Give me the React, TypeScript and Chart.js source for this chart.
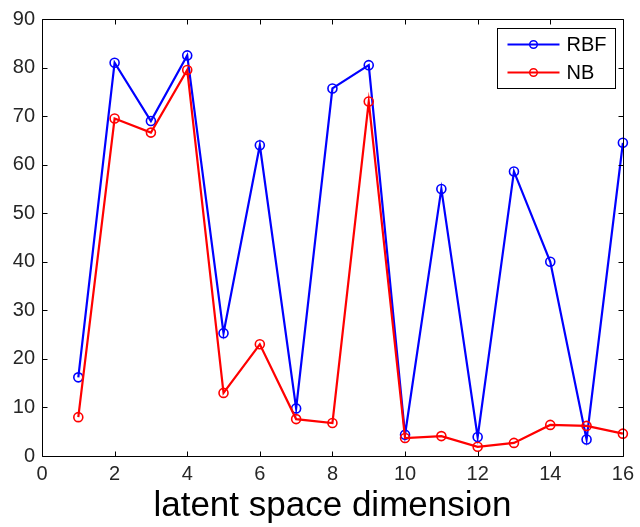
import React, { useEffect, useRef } from "react";
import { Chart, registerables } from "chart.js";

Chart.register(...registerables);

const dims = [1, 2, 3, 4, 5, 6, 7, 8, 9, 10, 11, 12, 13, 14, 15, 16];
const rbf = [16.2, 81, 69, 82.5, 25.3, 64, 9.8, 75.7, 80.5, 4.4, 55, 3.9, 58.6, 40, 3.4, 64.5];
const nb = [8, 69.5, 66.6, 79.5, 13, 23, 7.6, 6.8, 73, 3.7, 4.1, 1.9, 2.7, 6.4, 6.2, 4.6];
const xTicks = [0, 2, 4, 6, 8, 10, 12, 14, 16];
const yTicks = [0, 10, 20, 30, 40, 50, 60, 70, 80, 90];
const seriesNames = ["RBF", "NB"];
const seriesColors = ["#0000ff", "#ff0000"];
const xTitle = "latent space dimension";

const FONT = "'Liberation Sans', Arial, sans-serif";

const boxTicksPlugin = {
  id: "boxTicks",
  afterDraw(chart: any) {
    const { ctx, chartArea } = chart;
    const { left, right, top, bottom } = chartArea;
    const xs = chart.scales.x;
    const ys = chart.scales.y;
    ctx.save();
    ctx.strokeStyle = "#000";
    ctx.lineWidth = 1;
    ctx.beginPath();
    const L = Math.round(left) + 0.5;
    const R = Math.round(right) + 0.5;
    const T = Math.round(top) + 0.5;
    const B = Math.round(bottom) + 0.5;
    ctx.rect(L, T, R - L, B - T);
    const tl = 5;
    xTicks.forEach((v) => {
      const px = Math.round(xs.getPixelForValue(v)) + 0.5;
      ctx.moveTo(px, B);
      ctx.lineTo(px, B - tl);
      ctx.moveTo(px, T);
      ctx.lineTo(px, T + tl);
    });
    yTicks.forEach((v) => {
      const py = Math.round(ys.getPixelForValue(v)) + 0.5;
      ctx.moveTo(L, py);
      ctx.lineTo(L + tl, py);
      ctx.moveTo(R, py);
      ctx.lineTo(R - tl, py);
    });
    ctx.stroke();

    // legend
    const bw = 118;
    const bh = 60;
    const bx = Math.round(right - 8 - bw) + 0.5;
    const by = Math.round(top + 9) + 0.5;
    ctx.fillStyle = "#fff";
    ctx.fillRect(bx, by, bw, bh);
    ctx.strokeStyle = "#000";
    ctx.strokeRect(bx, by, bw, bh);
    seriesNames.forEach((name, i) => {
      const cy = by + 16 + i * 28;
      ctx.strokeStyle = seriesColors[i];
      ctx.lineWidth = 2;
      ctx.beginPath();
      ctx.moveTo(bx + 10, cy);
      ctx.lineTo(bx + 62, cy);
      ctx.stroke();
      ctx.lineWidth = 1.5;
      ctx.beginPath();
      ctx.arc(bx + 36, cy, 3.8, 0, Math.PI * 2);
      ctx.stroke();
      ctx.fillStyle = "#000";
      ctx.font = `20px ${FONT}`;
      ctx.textBaseline = "middle";
      ctx.textAlign = "left";
      ctx.fillText(name, bx + 69, cy + 1);
    });
    ctx.restore();
  },
};

export default function App() {
  const ref = useRef<HTMLCanvasElement | null>(null);
  useEffect(() => {
    document.body.style.margin = "0";
    if (!ref.current) return;
    const mk = (vals: number[]) => dims.map((d, i) => ({ x: d, y: vals[i] }));
    const common = {
      backgroundColor: "transparent",
      pointBackgroundColor: "rgba(0,0,0,0)",
      borderWidth: 2.2,
      pointRadius: 4.5,
      pointBorderWidth: 1.6,
      tension: 0,
      clip: false as any,
    };
    const chart = new Chart(ref.current, {
      type: "line",
      data: {
        datasets: [
          {
            ...common,
            label: seriesNames[0],
            data: mk(rbf),
            borderColor: seriesColors[0],
            pointBorderColor: seriesColors[0],
            order: 1,
          },
          {
            ...common,
            label: seriesNames[1],
            data: mk(nb),
            borderColor: seriesColors[1],
            pointBorderColor: seriesColors[1],
            order: 0,
          },
        ],
      },
      options: {
        animation: false,
        responsive: false,
        maintainAspectRatio: false,
        layout: { padding: { left: 0, right: 12, top: 13, bottom: 0 } },
        plugins: {
          legend: { display: false },
          tooltip: { enabled: false },
        },
        scales: {
          x: {
            type: "linear",
            min: 0,
            max: 16,
            afterFit: (s: any) => {
              s.height = 71;
            },
            afterBuildTicks: (s: any) => {
              s.ticks = xTicks.map((v) => ({ value: v }));
            },
            ticks: {
              font: { family: FONT, size: 20 },
              color: "#262626",
              padding: 6,
              maxRotation: 0,
              autoSkip: false,
            },
            grid: { display: false, drawTicks: false, tickLength: 0 },
            border: { display: false },
            title: {
              display: true,
              text: xTitle,
              color: "#000",
              font: { family: FONT, size: 35 },
              padding: { top: 0, bottom: 0 },
            },
          },
          y: {
            type: "linear",
            min: 0,
            max: 90,
            afterFit: (s: any) => {
              s.width = 42;
            },
            afterBuildTicks: (s: any) => {
              s.ticks = yTicks.map((v) => ({ value: v }));
            },
            ticks: {
              font: { family: FONT, size: 20 },
              color: "#262626",
              padding: 7,
              autoSkip: false,
            },
            grid: { display: false, drawTicks: false, tickLength: 0 },
            border: { display: false },
          },
        },
      },
      plugins: [boxTicksPlugin],
    });
    return () => chart.destroy();
  }, []);
  return (
    <div style={{ position: "fixed", left: 0, top: 0, width: 640, height: 527, background: "#fff" }}>
      <canvas ref={ref} width={640} height={527} style={{ display: "block", width: 640, height: 527 }} />
    </div>
  );
}
